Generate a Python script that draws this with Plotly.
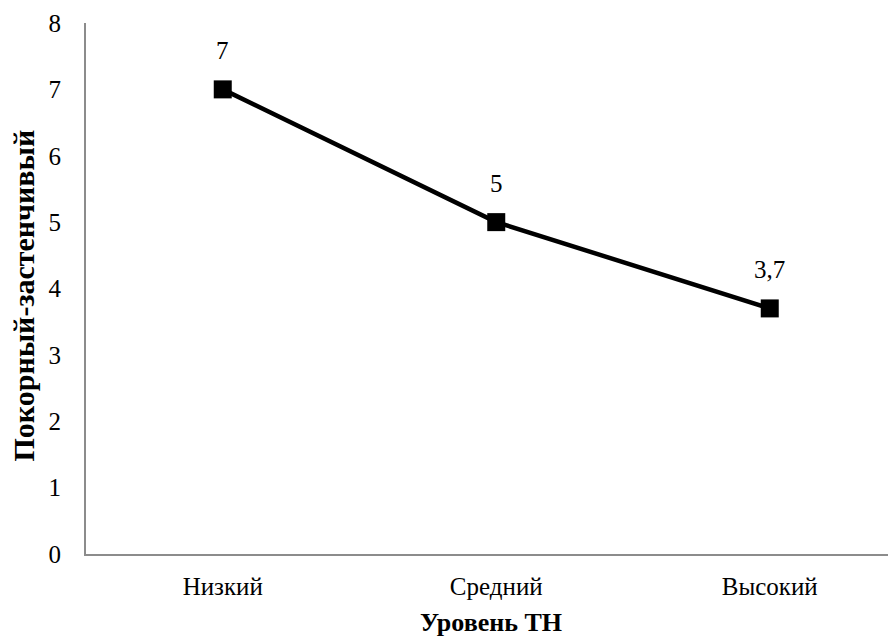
import plotly.graph_objects as go

levels = ["Низкий", "Средний", "Высокий"]
values = [7, 5, 3.7]
value_labels = ["7", "5", "3,7"]
y_ticks = [0, 1, 2, 3, 4, 5, 6, 7, 8]

FONT = "Liberation Serif"

fig = go.Figure()
fig.add_trace(go.Scatter(
    x=levels,
    y=values,
    mode="lines+markers",
    line=dict(color="black", width=4.5),
    marker=dict(symbol="square", size=18, color="black"),
    hoverinfo="skip",
    showlegend=False,
))

for lvl, val, lab in zip(levels, values, value_labels):
    fig.add_annotation(x=lvl, y=val, text=lab, showarrow=False, yshift=39,
                       font=dict(family=FONT, size=25, color="black"))

# y title as an annotation so it can sit exactly at the left edge
fig.add_annotation(
    text="<b>Покорный-застенчивый</b>", textangle=-90,
    xref="paper", yref="paper", x=0, y=0.5, xanchor="center", yanchor="middle",
    xshift=-63, yshift=-7, showarrow=False,
    font=dict(family=FONT, size=30, color="black"),
)

# the page adds an 8px body margin, so the figure is sized to fit inside it
fig.update_layout(
    width=888,
    height=634,
    paper_bgcolor="white",
    plot_bgcolor="white",
    margin=dict(l=78, r=0, t=15, b=88),
    font=dict(family=FONT, size=25, color="black"),
)
fig.update_xaxes(
    range=[-0.5, -0.5 + 810 / 273.5], automargin=False,
    showline=True, linecolor="#8c8c8c", linewidth=2,
    showgrid=False, ticks="", ticklabelstandoff=9,
    title=dict(text="<b>Уровень ТН</b>", font=dict(family=FONT, size=26), standoff=14),
)
fig.update_yaxes(
    range=[0, 8], tickvals=y_ticks, automargin=False,
    showline=True, linecolor="#8c8c8c", linewidth=2,
    showgrid=False, zeroline=False, ticks="", ticklabelstandoff=18,
    ticklabeloverflow="allow",
)

fig.write_html("out.html")
